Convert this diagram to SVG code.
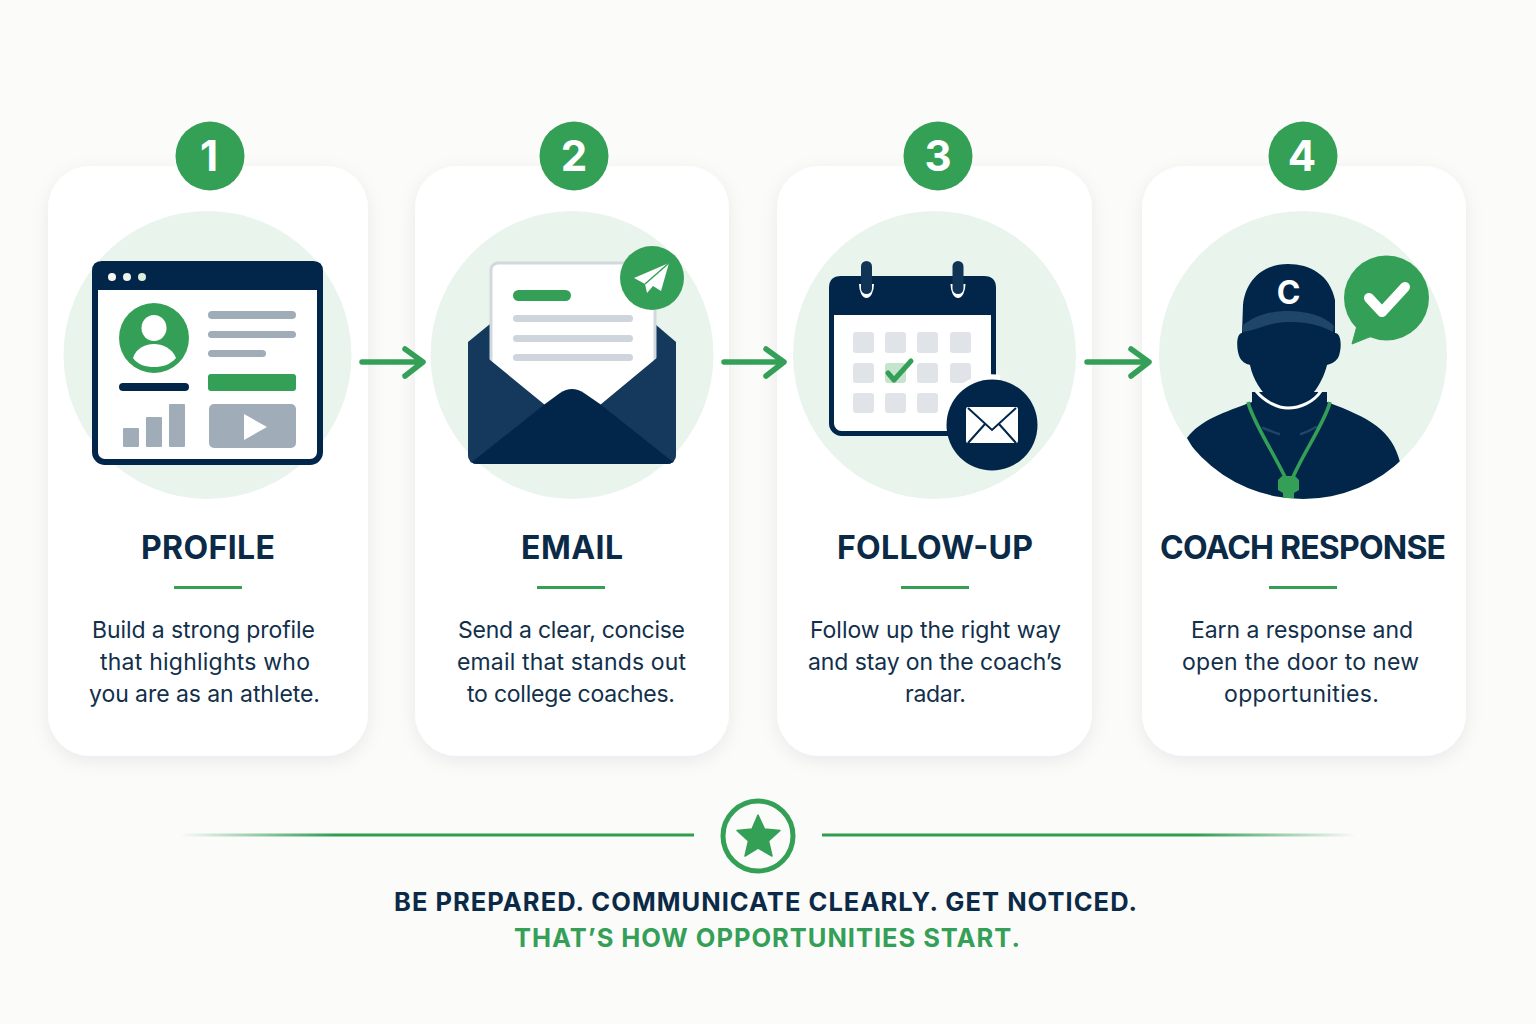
<svg xmlns="http://www.w3.org/2000/svg" width="1536" height="1024" viewBox="0 0 1536 1024">
<style>
text{font-family:"Inter","Liberation Sans",sans-serif;text-anchor:middle}
.card{fill:#fff;filter:url(#sh)}
.halo{fill:#e9f4ec}
.badge{fill:#33a056}
.num{font-size:42px;font-weight:700;fill:#fff}
.title{font-size:32px;font-weight:700;fill:#0b2a47}
.body{font-size:23px;font-weight:400;fill:#12304b}
.rule{fill:#33a056}
.g{fill:#34a057}
.n{fill:#02264a}
.gr{fill:#a0adb9}
.lt{fill:#cfd5dc}
.cell{fill:#e0e4e8}
.arrow{fill:none;stroke:#34a057;stroke-width:5.5;stroke-linecap:round;stroke-linejoin:round}
.foot{font-size:25.500px;font-weight:700}
</style>
<defs>
<filter id="sh" x="-15%" y="-10%" width="130%" height="120%"><feDropShadow dx="0" dy="5" stdDeviation="9" flood-color="#0b2a47" flood-opacity=".07"/></filter>
<linearGradient id="fl" x1="0" x2="1" y1="0" y2="0"><stop offset="0" stop-color="#2f9e50" stop-opacity="0"/><stop offset=".3" stop-color="#2f9e50"/></linearGradient>
<linearGradient id="fr" x1="0" x2="1" y1="0" y2="0"><stop offset=".7" stop-color="#2f9e50"/><stop offset="1" stop-color="#2f9e50" stop-opacity="0"/></linearGradient>
<clipPath id="cc"><circle cx="1303" cy="355" r="144"/></clipPath>
</defs>
<rect width="1536" height="1024" fill="#fbfbfa"/>

<g id="node-1">
<rect class="card" x="48" y="166" width="320" height="590" rx="42"/>
<circle class="halo" cx="207.500" cy="355" r="144"/>
<circle class="badge" cx="210" cy="156" r="34.500"/>
<text class="num" x="209" y="171">1</text>
<rect x="95" y="264" width="225" height="198" rx="10" fill="#fff" stroke="#02264a" stroke-width="6"/>
<path class="n" d="M102 261H313Q323 261 323 271V290H92V271Q92 261 102 261Z"/>
<circle cx="112" cy="277" r="4" fill="#f4f7f2"/><circle cx="127" cy="277" r="4" fill="#eef4ec"/><circle cx="142" cy="277" r="4" fill="#dcefdc"/>
<circle class="g" cx="154" cy="338" r="35"/>
<ellipse cx="154" cy="328" rx="12.500" ry="13" fill="#fff"/>
<path d="M133 358C136 348 146 344 154 344S172 348 176 358C170 365 162 367 154 367S138 365 133 358Z" fill="#fff"/>
<rect class="n" x="119" y="383" width="70" height="8" rx="4"/>
<rect class="gr" x="208" y="311" width="88" height="8" rx="4"/>
<rect class="gr" x="208" y="331" width="88" height="7" rx="3.500"/>
<rect class="gr" x="208" y="350" width="58" height="7" rx="3.500"/>
<rect class="g" x="208" y="374" width="88" height="17" rx="3"/>
<rect class="gr" x="209" y="404" width="87" height="44" rx="5"/>
<path d="M244 414L267 427L244 440Z" fill="#fff"/>
<rect class="gr" x="123" y="428" width="16" height="19" rx="1"/>
<rect class="gr" x="146" y="417" width="16" height="30" rx="1"/>
<rect class="gr" x="169" y="404" width="16" height="43" rx="1"/>
<text class="title" x="208" y="559" textLength="134">PROFILE</text>
<rect class="rule" x="174" y="586" width="68" height="3"/>
<text class="body" x="203.500" y="638" textLength="223">Build a strong profile</text>
<text class="body" x="205" y="670" textLength="210">that highlights who</text>
<text class="body" x="204.500" y="702" textLength="231">you are as an athlete.</text>
</g>

<g id="node-2">
<rect class="card" x="415" y="166" width="314" height="590" rx="42"/>
<ellipse class="halo" cx="572" cy="355" rx="141.500" ry="144"/>
<circle class="badge" cx="574" cy="156" r="34.500"/>
<text class="num" x="574" y="171">2</text>
<path d="M490 324L468 342V454Q468 464 478 464H666Q676 464 676 454V342L655 324Z" fill="#15395c"/>
<rect x="491" y="263" width="164" height="170" rx="7" fill="#fff" stroke="#d3d8de" stroke-width="3"/>
<rect class="g" x="513" y="290" width="58" height="11" rx="5.500"/>
<rect class="lt" x="513" y="315" width="120" height="7" rx="3.500"/>
<rect class="lt" x="513" y="335" width="120" height="7" rx="3.500"/>
<rect class="lt" x="513" y="354" width="120" height="7" rx="3.500"/>
<path d="M468 342L545 405L600 405L676 342V454Q676 464 666 464H478Q468 464 468 454Z" fill="#15395c"/>
<path d="M472 462L545 404L560 393Q572 385 584 393L600 404L673 462Q670 464 666 464H478Q474 464 472 462Z" fill="#02264a"/>
<circle class="g" cx="652" cy="278" r="32"/>
<path d="M669 263L634 278L645 284L647 293L653 286L661 291Z" fill="#fff"/>
<path d="M645 284L669 263" stroke="#34a057" stroke-width="1.500" fill="none"/>
<text class="title" x="572" y="559" textLength="102">EMAIL</text>
<rect class="rule" x="537" y="586" width="68" height="3"/>
<text class="body" x="571.500" y="638" textLength="227">Send a clear, concise</text>
<text class="body" x="571.500" y="670" textLength="229">email that stands out</text>
<text class="body" x="571" y="702" textLength="208">to college coaches.</text>
</g>

<g id="node-3">
<rect class="card" x="777" y="166" width="315" height="590" rx="42"/>
<ellipse class="halo" cx="934.500" cy="355" rx="141.500" ry="144"/>
<circle class="badge" cx="938" cy="156" r="34.500"/>
<text class="num" x="938" y="171">3</text>
<rect x="831.500" y="285" width="162" height="148.500" rx="10" fill="#fff" stroke="#02264a" stroke-width="5"/>
<path class="n" d="M841 276H984Q996 276 996 288V315H829V288Q829 276 841 276Z"/>
<path d="M859 284A7.500 14 0 0 0 874 284Z" fill="#fff"/><path d="M950.500 284A7.500 14 0 0 0 965.500 284Z" fill="#fff"/>
<rect x="861" y="261" width="11" height="33" rx="5.500" fill="#0f3456"/><rect x="952.500" y="261" width="11" height="33" rx="5.500" fill="#0f3456"/>
<g class="cell">
<rect x="853" y="332" width="21" height="21" rx="3"/><rect x="885" y="332" width="21" height="21" rx="3"/><rect x="917" y="332" width="21" height="21" rx="3"/><rect x="950" y="332" width="21" height="21" rx="3"/>
<rect x="853" y="363" width="21" height="20" rx="3"/><rect x="885" y="363" width="21" height="20" rx="3" fill="#c6e3cd"/><rect x="917" y="363" width="21" height="20" rx="3"/><rect x="950" y="363" width="21" height="20" rx="3"/>
<rect x="853" y="393" width="21" height="20" rx="3"/><rect x="885" y="393" width="21" height="20" rx="3"/><rect x="917" y="393" width="21" height="20" rx="3"/>
</g>
<path d="M888 373L894 380L911 361" fill="none" stroke="#34a057" stroke-width="5" stroke-linecap="round" stroke-linejoin="round"/>
<path d="M1000 378A48 48 0 0 0 951 400" fill="none" stroke="#fff" stroke-width="6"/>
<circle class="n" cx="992" cy="425" r="45.500"/>
<rect x="966" y="407" width="52" height="36" rx="2" fill="#fff"/>
<path d="M968 408L992 430L1016 408M968 443L985 424M1016 443L999 424" fill="none" stroke="#02264a" stroke-width="2"/>
<text class="title" x="935" y="559" textLength="196">FOLLOW-UP</text>
<rect class="rule" x="901" y="586" width="68" height="3"/>
<text class="body" x="935.500" y="638" textLength="251">Follow up the right way</text>
<text class="body" x="935" y="670" textLength="254">and stay on the coach’s</text>
<text class="body" x="935.500" y="702" textLength="61">radar.</text>
</g>

<g id="node-4">
<rect class="card" x="1142" y="166" width="324" height="590" rx="42"/>
<circle class="halo" cx="1303" cy="355" r="144"/>
<circle class="badge" cx="1303" cy="156" r="34.500"/>
<text class="num" x="1302" y="171">4</text>
<g clip-path="url(#cc)">
<path class="n" d="M1252 392V402C1225 412 1200 420 1187 438L1230 510H1380L1400 462C1392 430 1370 418 1327 402V392Z"/>
</g>
<path d="M1256 391C1265 402 1278 408 1288 408C1300 408 1314 402 1321 391" fill="none" stroke="#fff" stroke-width="3"/>
<path class="n" d="M1242 333C1236 333 1236 350 1240 358C1243 363 1247 364 1250 365C1254 385 1270 406 1288 406C1308 406 1322 385 1327 365C1331 364 1335 362 1338 358C1342 350 1342 333 1335 333L1335 300C1330 275 1310 264 1288 264C1265 264 1246 278 1243 305Z"/>
<path d="M1242 326C1255 315 1270 311 1288 311C1306 311 1325 316 1334 326L1333 332C1318 324 1305 322 1288 322C1270 322 1258 330 1243 332Z" fill="#1f4568"/>
<text x="1288.500" y="304" font-size="32" font-weight="700" fill="#fff">C</text>
<path d="M1263 428Q1273 432 1279 434M1316 427Q1308 432 1301 434" fill="none" stroke="#1f4568" stroke-width="2.500" stroke-linecap="round"/>
<path d="M1248 402C1252 420 1272 450 1285 477M1330 402C1326 420 1305 450 1293 477" fill="none" stroke="#34a057" stroke-width="3.500"/>
<path class="g" d="M1282 476H1295L1299 480V490L1294 493V498H1283V493L1278 490V480Z"/>
<circle class="g" cx="1386.500" cy="298" r="42.500"/>
<path class="g" d="M1352 344L1358 322L1372 336Z" stroke="#34a057" stroke-linejoin="round"/>
<path d="M1369 298L1382 312L1405 287" fill="none" stroke="#fff" stroke-width="10" stroke-linecap="round" stroke-linejoin="round"/>
<text class="title" x="1303" y="559" textLength="286">COACH RESPONSE</text>
<rect class="rule" x="1269" y="586" width="68" height="3"/>
<text class="body" x="1302" y="638" textLength="222">Earn a response and</text>
<text class="body" x="1300.500" y="670" textLength="237">open the door to new</text>
<text class="body" x="1301.500" y="702" textLength="155">opportunities.</text>
</g>

<g id="connectors">
<path class="arrow" d="M362 362H423M405 349L423 362L405 376"/>
<path class="arrow" d="M724 362H784M766 349L784 362L766 376"/>
<path class="arrow" d="M1087 362H1149M1131 349L1149 362L1131 376"/>
</g>

<g id="footer">
<rect x="180" y="833.500" width="514" height="3" fill="url(#fl)"/>
<rect x="822" y="833.500" width="534" height="3" fill="url(#fr)"/>
<circle cx="758" cy="836" r="35" fill="none" stroke="#33a056" stroke-width="5"/>
<path d="M758 815L764.500 829L780 830.500L768.500 841L772 856L758 848L745 856L748.500 841L737 830.500L752 829Z" fill="#33a056" stroke="#33a056" stroke-width="1.500" stroke-linejoin="round"/>
<text class="foot" x="765.500" y="911" fill="#0b2a47" textLength="743">BE PREPARED. COMMUNICATE CLEARLY. GET NOTICED.</text>
<text class="foot" x="767" y="947" fill="#34a057" textLength="506">THAT’S HOW OPPORTUNITIES START.</text>
</g>
</svg>
